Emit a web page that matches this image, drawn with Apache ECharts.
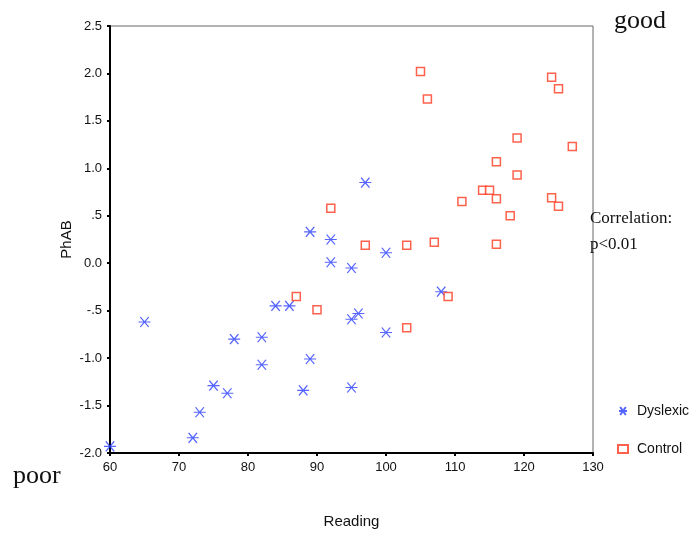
<!DOCTYPE html>
<html><head><meta charset="utf-8">
<script src="https://cdn.jsdelivr.net/npm/echarts@6/dist/echarts.min.js"></script>
<style>html,body{margin:0;padding:0;background:#fff}#c{width:698px;height:536px}</style>
</head><body><div id="c"></div>
<script>
var dyslexicReading = [60,65,72,73,75,77,78,82,82,84,86,88,89,89,92,92,95,95,96,95,97,100,100,108];
var dyslexicPhAB = [-1.93,-0.62,-1.84,-1.57,-1.29,-1.37,-0.80,-0.78,-1.07,-0.45,-0.45,-1.34,-1.01,0.33,0.25,0.01,-0.05,-0.59,-0.53,-1.31,0.85,0.11,-0.73,-0.30];
var controlReading = [87,90,92,97,103,103,105,106,107,109,111,114,115,116,116,116,118,119,119,124,124,125,125,127];
var controlPhAB = [-0.35,-0.49,0.58,0.19,0.19,-0.68,2.02,1.73,0.22,-0.35,0.65,0.77,0.77,1.07,0.68,0.20,0.50,1.32,0.93,1.96,0.69,1.84,0.60,1.23];
var seriesNames = ['Dyslexic','Control'];

function pairs(xs, ys){ return xs.map(function(x,i){ return [x, ys[i]]; }); }
var chart = echarts.init(document.getElementById('c'), null, {renderer:'canvas'});
var font = 'Liberation Sans, Arial, sans-serif';
var serif = 'Liberation Serif, Times New Roman, serif';
var star = 'path://M0,5L10,5M1.5,0L8.5,10M8.5,0L1.5,10';
chart.setOption({
  animation:false,
  grid:{left:110, top:26, right:105, bottom:83, show:true, borderColor:'#666', borderWidth:1},
  xAxis:{type:'value', min:60, max:130, interval:10, name:'Reading', nameLocation:'middle', nameGap:61,
    nameMoveOverlap:false,
    nameTextStyle:{fontFamily:font, fontSize:15, color:'#111'},
    axisLine:{onZero:false, lineStyle:{color:'#000', width:2}}, axisTick:{length:3, lineStyle:{color:'#000', width:2}},
    axisLabel:{fontFamily:font, fontSize:13, color:'#111', margin:8}, splitLine:{show:false}},
  yAxis:{type:'value', min:-2, max:2.5, interval:0.5, name:'PhAB', nameLocation:'middle', nameGap:36,
    nameMoveOverlap:false,
    nameTextStyle:{fontFamily:font, fontSize:15, color:'#111'},
    axisLine:{onZero:false, lineStyle:{color:'#000', width:2}}, axisTick:{length:3, lineStyle:{color:'#000', width:2}},
    axisLabel:{fontFamily:font, fontSize:13, color:'#111', margin:8, formatter:function(v){
      var s = v.toFixed(1); if (Math.abs(v) < 1 && v !== 0) s = s.replace('0.', '.'); return s; }},
    splitLine:{show:false}},
  legend:{orient:'vertical', left:612, top:399, itemGap:24, itemWidth:10, itemHeight:8,
    textStyle:{fontFamily:font, fontSize:14, color:'#111', padding:[6,0,0,4]}, data:seriesNames},
  series:[
    {name:seriesNames[0], type:'scatter', symbol:star, symbolSize:[12,10], data:pairs(dyslexicReading, dyslexicPhAB),
      itemStyle:{color:'rgba(0,0,0,0)', borderColor:'#2b3fff', borderWidth:1.2}},
    {name:seriesNames[1], type:'scatter', symbol:'rect', symbolSize:8, data:pairs(controlReading, controlPhAB),
      itemStyle:{color:'#fff', borderColor:'#ff3a1f', borderWidth:1.5}}
  ],
  graphic:[
    {type:'text', left:614, top:8, style:{text:'good', font:'26px '+serif, fill:'#111'}},
    {type:'text', left:13, top:463, style:{text:'poor', font:'26px '+serif, fill:'#111'}},
    {type:'text', left:590, top:206, style:{text:'Correlation:\np<0.01', font:'17px '+serif, fill:'#111', lineHeight:26}}
  ]
});
</script></body></html>
